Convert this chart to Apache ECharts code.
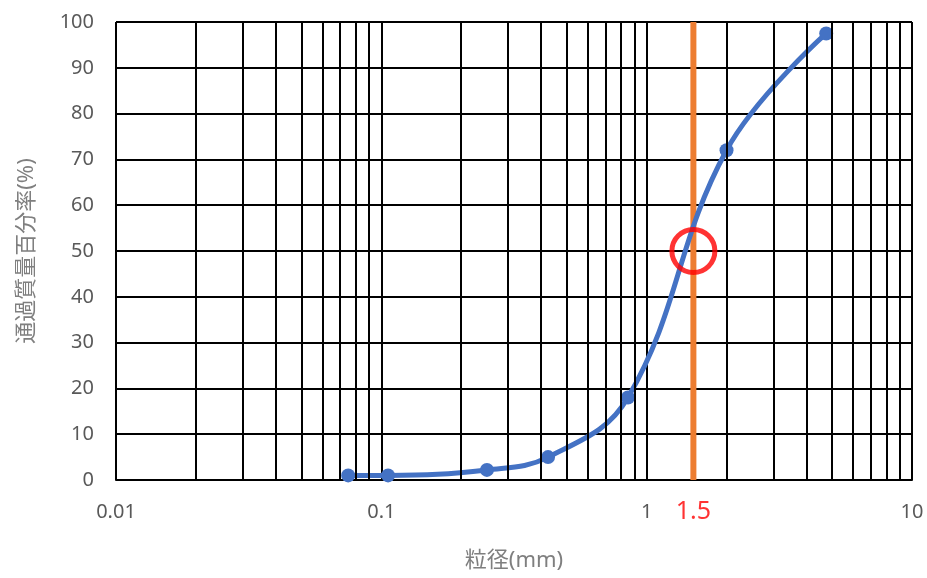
<!DOCTYPE html>
<html>
<head>
<meta charset="utf-8">
<script src="https://cdn.jsdelivr.net/npm/echarts@6/dist/echarts.min.js"></script>
<style>
  html, body { margin: 0; padding: 0; background: #fff; }
  #chart { width: 927px; height: 578px; }
</style>
</head>
<body>
<div id="chart"></div>
<script>
// Grain-size distribution (sieve analysis)
const grainSizes = [0.075, 0.106, 0.25, 0.425, 0.85, 2, 4.75];   // mm
const passingPercent = [1, 1, 2.2, 5, 18, 72, 97.5];           // %
const d50Size = 1.5;      // mm
const d50Percent = 50;    // %
const xTickValues = [0.01, 0.1, 1, 10];

// minor log grid lines: 2..9 within each decade
const minorGrid = [];
for (let i = 0; i < xTickValues.length - 1; i++) {
  for (let k = 2; k <= 9; k++) minorGrid.push(+(xTickValues[i] * k).toPrecision(3));
}

const fontFamily = '"Noto Sans", "Noto Sans CJK JP", sans-serif';
const gridBlack = '#000000';
const gridWidth = 2;

const chart = echarts.init(document.getElementById('chart'));
chart.setOption({
  animation: false,
  backgroundColor: '#ffffff',
  grid: { left: 116, right: 15, top: 22, bottom: 98 },
  xAxis: {
    type: 'log',
    logBase: 10,
    min: xTickValues[0],
    max: xTickValues[xTickValues.length - 1],
    name: '粒径(mm)',
    nameLocation: 'middle',
    nameGap: 70,
    nameTextStyle: { color: '#7f7f7f', fontSize: 22, fontFamily },
    axisLine: { show: true, lineStyle: { color: gridBlack, width: gridWidth } },
    axisTick: { show: false },
    axisLabel: { color: '#595959', fontSize: 20, fontFamily, margin: 22 },
    splitLine: { show: true, lineStyle: { color: gridBlack, width: gridWidth } }
  },
  yAxis: {
    type: 'value',
    min: 0,
    max: 100,
    interval: 10,
    name: '通過質量百分率(%)',
    nameLocation: 'middle',
    nameGap: 78,
    nameTextStyle: { color: '#7f7f7f', fontSize: 22, fontFamily },
    axisLine: { show: false },
    axisTick: { show: false },
    axisLabel: { color: '#595959', fontSize: 20, fontFamily, margin: 22 },
    splitLine: { show: true, lineStyle: { color: gridBlack, width: gridWidth } }
  },
  series: [
    {
      // minor vertical grid lines
      type: 'line',
      data: [],
      silent: true,
      markLine: {
        silent: true,
        symbol: 'none',
        label: { show: false },
        lineStyle: { color: gridBlack, width: gridWidth, type: 'solid' },
        data: minorGrid.map(v => ({ xAxis: v }))
      }
    },
    {
      name: 'D50',
      type: 'line',
      data: [[d50Size, 0], [d50Size, 100]],
      symbol: 'none',
      lineStyle: { color: '#ED7D31', width: 6 },
      z: 3
    },
    {
      name: '通過質量百分率',
      type: 'line',
      data: grainSizes.map((x, i) => [x, passingPercent[i]]),
      smooth: 0.4,
      symbol: 'circle',
      symbolSize: 14,
      itemStyle: { color: '#4472C4' },
      lineStyle: { color: '#4472C4', width: 5 },
      z: 4
    },
    {
      // D50 marker ring
      type: 'scatter',
      data: [[d50Size, d50Percent]],
      symbol: 'circle',
      symbolSize: 43,
      itemStyle: { color: 'rgba(0,0,0,0)', borderColor: '#FF0000', borderWidth: 5 },
      z: 5
    },
    {
      // D50 value label under the axis
      type: 'scatter',
      data: [[d50Size, 0]],
      symbolSize: 1,
      itemStyle: { color: 'rgba(0,0,0,0)' },
      label: {
        show: true,
        position: 'bottom',
        distance: 19,
        formatter: String(d50Size),
        color: '#FF0000',
        fontSize: 25,
        fontFamily
      },
      z: 5
    }
  ]
});
</script>
</body>
</html>
